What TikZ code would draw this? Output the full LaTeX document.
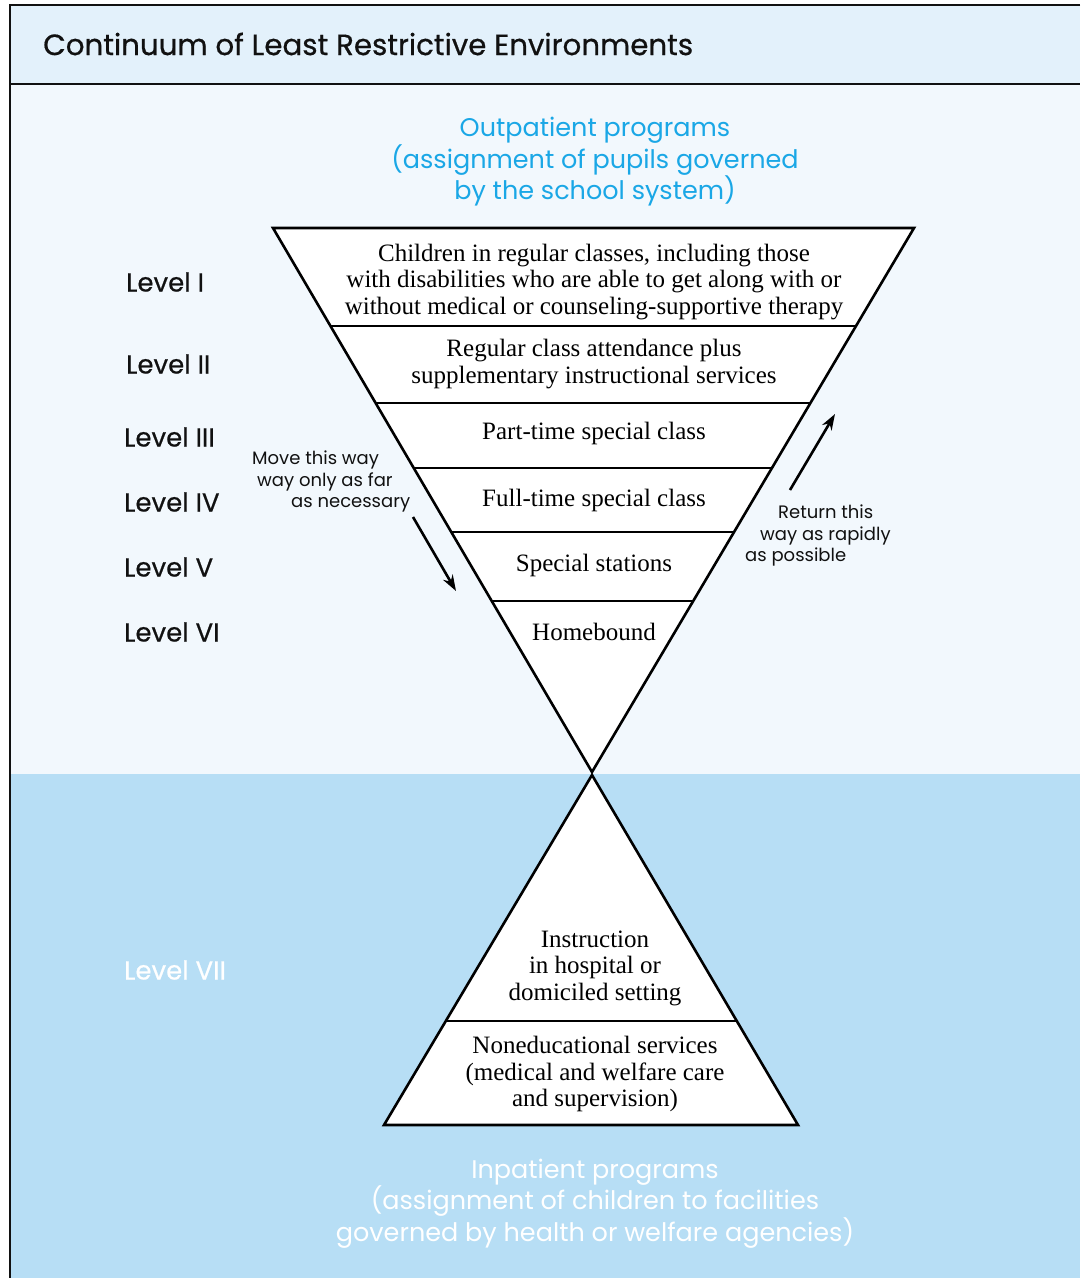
\documentclass[tikz,border=0pt]{standalone}
\usepackage{fontspec}
\setmainfont{Liberation Serif}
\setsansfont{Poppins}
\newfontfamily\popheavy{Poppins}[FakeBold=0.6]
\usetikzlibrary{arrows.meta,calc}
\definecolor{titlebg}{HTML}{E3F1FB}
\definecolor{bodybg}{HTML}{F2F8FD}
\definecolor{lowbg}{HTML}{B7DEF5}
\definecolor{cyantxt}{HTML}{1AA7E6}
\definecolor{ink}{HTML}{111111}
\tikzset{
  frame/.style={line width=1.5pt, draw=ink},
  tri/.style={draw=black, fill=white, line width=2.6pt, line join=miter},
  band/.style={draw=black, line width=2.6pt},
  boxtext/.style={font=\fontsize{25}{26.5}\selectfont, align=center, inner sep=0pt, text=black},
  leveltext/.style={font=\popheavy\fontsize{26}{30}\selectfont, anchor=west, inner sep=0pt, text=ink},
  headtext/.style={font=\sffamily\fontsize{25.5}{31.5}\selectfont, align=center, inner sep=0pt},
  notetext/.style={font=\sffamily\fontsize{18}{21.5}\selectfont, align=left, inner sep=0pt, text=ink},
  movearrow/.style={line width=2.6pt, -{Stealth[length=16pt,width=11pt]}}
}
\begin{document}
\begin{tikzpicture}[x=1pt,y=-1pt]
\useasboundingbox (0,0) rectangle (1080,1278);
\fill[white] (0,0) rectangle (1080,1278);
\fill[titlebg] (10,5) rectangle (1080,84);
\fill[bodybg] (10,84) rectangle (1080,774);
\fill[lowbg] (10,774) rectangle (1080,1278);
\draw[frame] (1080,5) -- (10,5) -- (10,1278);
\draw[frame] (10,84) -- (1080,84);

\node[font=\popheavy\fontsize{29.3}{34}\selectfont, anchor=west, inner sep=0pt, text=ink] (title) at (43,44) {Continuum of Least Restrictive Environments};

\node[headtext, text=cyantxt] (outp) at (595,162) {Outpatient programs\\(assignment of pupils governed\\by the school system)};

% inverted triangle
\coordinate (TL) at (273,228);
\coordinate (TR) at (914,228);
\coordinate (AP) at (592,772);
\draw[tri] (TL) -- (TR) -- (AP) -- cycle;
\foreach \yy/\nm in {326/a,403/b,468/c,532/d,601/e}{
  \coordinate (L\nm) at ($(TL)!{(\yy-228)/544}!(AP)$);
  \coordinate (R\nm) at ($(TR)!{(\yy-228)/544}!(AP)$);
  \draw[band] (L\nm) -- (R\nm);
}

\node[boxtext] (b1) at (594,282) {Children in regular classes, including those\\with disabilities who are able to get along with or\\without medical or counseling-supportive therapy};
\node[boxtext] (b2) at (594,364) {Regular class attendance plus\\supplementary instructional services};
\node[boxtext] (b3) at (594,433) {Part-time special class};
\node[boxtext] (b4) at (594,500) {Full-time special class};
\node[boxtext] (b5) at (594,565) {Special stations};
\node[boxtext] (b6) at (594,632) {Homebound};

% upright triangle
\coordinate (UA) at (592,775);
\coordinate (BL) at (384,1125);
\coordinate (BR) at (798,1125);
\draw[tri] (UA) -- (BR) -- (BL) -- cycle;
\coordinate (Lf) at ($(UA)!{(1021-775)/350}!(BL)$);
\coordinate (Rf) at ($(UA)!{(1021-775)/350}!(BR)$);
\draw[band] (Lf) -- (Rf);

\node[boxtext] (b7) at (595,968) {Instruction\\in hospital or\\domiciled setting};
\node[boxtext] (b8) at (595,1074) {Noneducational services\\(medical and welfare care\\and supervision)};

% level labels
\node[leveltext] (l1) at (126,282) {Level I};
\node[leveltext] (l2) at (126,364) {Level II};
\node[leveltext] (l3) at (124,437) {Level III};
\node[leveltext] (l4) at (124,502) {Level IV};
\node[leveltext] (l5) at (124,567) {Level V};
\node[leveltext] (l6) at (124,632) {Level VI};
\node[leveltext, text=white] (l7) at (124,970) {Level VII};

% notes and arrows
\node[notetext, anchor=north west] (mv) at (252,451) {Move this way\\\hspace*{5pt}way only as far\\\hspace*{39pt}as necessary};
\node[notetext, anchor=north west] (rt) at (745,505) {\hspace*{33pt}Return this\\\hspace*{15pt}way as rapidly\\as possible};
\coordinate (m1) at (413,517);
\coordinate (m2) at (456,591);
\coordinate (r1) at (790,490);
\coordinate (r2) at (835,414);
\draw[movearrow] (m1) -- (m2);
\draw[movearrow] (r1) -- (r2);

\node[headtext, text=white] (inp) at (595,1203.5) {Inpatient programs\\(assignment of children to facilities\\governed by health or welfare agencies)};
\end{tikzpicture}
\end{document}
